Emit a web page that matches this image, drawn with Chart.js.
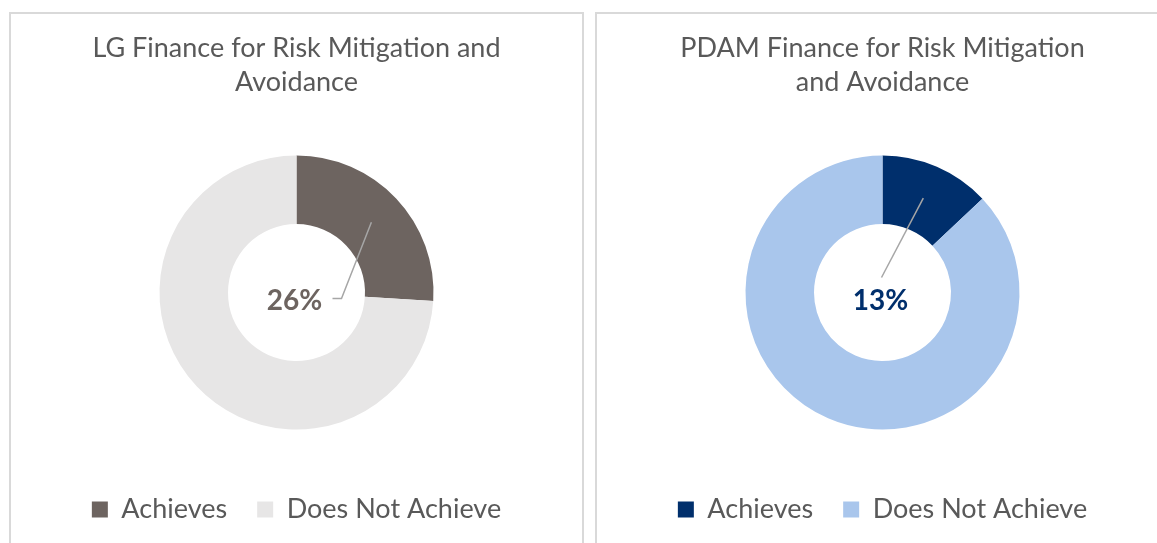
<!DOCTYPE html>
<html>
<head>
<meta charset="utf-8">
<script src="https://cdn.jsdelivr.net/npm/chart.js@4.4.1/dist/chart.umd.min.js"></script>
<style>
  html, body { margin: 0; padding: 0; background: #fff; overflow: hidden; }
  body { width: 1157px; height: 543px; position: relative; }
  .panel {
    position: absolute;
    top: 12px;
    width: 571px;
    height: 560px;
    border: 2px solid #d9d9d9;
    background: #fff;
  }
  #panel1 { left: 9px; }
  #panel2 { left: 595px; }
  canvas { display: block; }
</style>
</head>
<body>
<div class="panel" id="panel1"><canvas id="chart1" width="571" height="529"></canvas></div>
<div class="panel" id="panel2"><canvas id="chart2" width="571" height="529"></canvas></div>
<script>
const categories = ["Achieves", "Does Not Achieve"];
const lgValues = [26, 74];
const pdamValues = [13, 87];
const lgTitle = ["LG Finance for Risk Mitigation and", "Avoidance"];
const pdamTitle = ["PDAM Finance for Risk Mitigation", "and Avoidance"];
const lgColors = ["#6d6460", "#e7e6e6"];
const pdamColors = ["#002f6c", "#a9c6ec"];

const fontName = "Lato, 'Open Sans', sans-serif";
const textGray = "#595959";

// draws the % label for the first slice with a leader line from the slice middle
const calloutPlugin = {
  id: "callout",
  afterDatasetsDraw(chart, args, opts) {
    const ctx = chart.ctx;
    const arc = chart.getDatasetMeta(0).data[0];
    const value = chart.data.datasets[0].data[0];
    const start = arc.getCenterPoint();
    const cx = arc.x;
    const cy = arc.y;
    const tx = cx + opts.dx;
    const ty = cy + opts.dy;

    ctx.save();
    ctx.strokeStyle = "#a6a6a6";
    ctx.lineWidth = 1.5;
    ctx.beginPath();
    ctx.moveTo(start.x, start.y);
    for (let i = 0; i < opts.path.length; i++) {
      ctx.lineTo(cx + opts.path[i][0], cy + opts.path[i][1]);
    }
    ctx.stroke();

    ctx.font = "bold 28px " + fontName;
    ctx.fillStyle = opts.color;
    ctx.textAlign = "center";
    ctx.textBaseline = "middle";
    ctx.fillText(value + "%", tx, ty);
    ctx.restore();
  }
};

function makeChart(id, title, values, colors, callout) {
  return new Chart(document.getElementById(id), {
    type: "doughnut",
    data: {
      labels: categories,
      datasets: [{
        data: values,
        backgroundColor: colors,
        borderWidth: 0,
        radius: 137,
        cutout: "50%"
      }]
    },
    options: {
      responsive: false,
      animation: false,
      events: [],
      layout: { padding: { top: 0, bottom: 10, left: 0, right: 0 } },
      plugins: {
        title: {
          display: true,
          text: title,
          color: textGray,
          font: { family: fontName, size: 27, weight: "normal", lineHeight: 1.26 },
          padding: { top: 17, bottom: 20 }
        },
        legend: {
          position: "bottom",
          labels: {
            color: textGray,
            font: { family: fontName, size: 27 },
            boxWidth: 16,
            boxHeight: 16,
            padding: 30
          }
        },
        tooltip: { enabled: false },
        callout: callout
      }
    },
    plugins: [calloutPlugin]
  });
}

makeChart("chart1", lgTitle, lgValues, lgColors, {
  dx: -2, dy: 8, color: lgColors[0],
  path: [[45, 6], [36, 6]]
});
makeChart("chart2", pdamTitle, pdamValues, pdamColors, {
  dx: -2, dy: 8, color: pdamColors[0],
  path: [[-1, -15]]
});
</script>
</body>
</html>
